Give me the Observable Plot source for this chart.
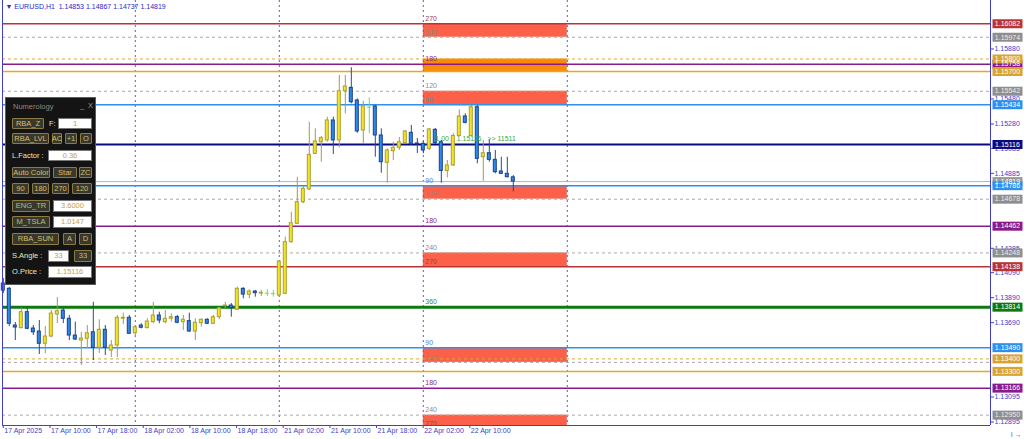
<!DOCTYPE html>
<html><head><meta charset="utf-8">
<script src="https://cdn.jsdelivr.net/npm/d3@7"></script>
<script src="https://cdn.jsdelivr.net/npm/@observablehq/plot@0.6"></script>
<style>
body{margin:0;background:#fff;}
#wrap{position:relative;width:1024px;height:439px;overflow:hidden;font-family:"Liberation Sans",Arial,sans-serif;}
#wrap svg{display:block;}
.el{position:absolute;box-sizing:border-box;font-size:7.5px;line-height:1;display:flex;align-items:center;justify-content:center;white-space:nowrap;}
.btn{background:#38382c;border:1px solid #8c7c44;color:#d6be6e;border-radius:1px;}
.inp{background:#fff;border:1px solid #777;color:#c89e3c;}
.lbl{color:#f0e6b4;justify-content:flex-start;}
</style></head><body><div id="wrap"></div>
<script>
// ---------------- DATA ----------------
const symbolHeader = "▼ EURUSD,H1  1.14853 1.14867 1.14737 1.14819";
// H1 candles, bar index 0 = 17 Apr 2025 02:00
const opens = [1.14003,1.13961,1.13667,1.13646,1.13774,1.13643,1.13619,1.13521,1.13579,1.13755,1.13787,1.13721,1.13587,1.13547,1.13561,1.13613,1.13489,1.13633,1.13467,1.13507,1.13721,1.13729,1.13605,1.13667,1.13646,1.13694,1.13747,1.13694,1.13721,1.13734,1.13694,1.13702,1.13619,1.13686,1.13713,1.13681,1.13734,1.13822,1.13827,1.13793,1.13961,1.13913,1.13939,1.13923,1.13926,1.13923,1.13907,1.13921,1.14334,1.14481,1.14654,1.14756,1.15041,1.15134,1.15148,1.15308,1.15148,1.15542,1.15569,1.15468,1.15228,1.15414,1.15420,1.15188,1.14969,1.15062,1.15089,1.15126,1.15209,1.15124,1.15121,1.15081,1.15233,1.15134,1.14904,1.14948,1.15184,1.15340,1.15184,1.15414,1.15014,1.15046,1.14993,1.14900,1.14881,1.14853];
const highs = [1.14043,1.13971,1.13691,1.13806,1.13806,1.13667,1.13707,1.13659,1.13787,1.13891,1.13803,1.13747,1.13694,1.13613,1.13667,1.13853,1.13713,1.13667,1.13547,1.13747,1.13766,1.13747,1.13667,1.13681,1.13721,1.13853,1.13774,1.13787,1.13761,1.13747,1.13747,1.13766,1.13721,1.13721,1.13721,1.13747,1.13814,1.13853,1.13843,1.13974,1.13969,1.13953,1.13947,1.13947,1.13953,1.13947,1.14179,1.14374,1.14574,1.14854,1.14780,1.15294,1.15241,1.15180,1.15334,1.15334,1.15668,1.15668,1.15730,1.15481,1.15462,1.15489,1.15428,1.15241,1.15081,1.15134,1.15172,1.15228,1.15268,1.15164,1.15140,1.15244,1.15244,1.15148,1.14988,1.15201,1.15393,1.15361,1.15428,1.15428,1.15148,1.15153,1.15068,1.15014,1.15014,1.14867];
const lows = [1.13923,1.13659,1.13547,1.13641,1.13633,1.13587,1.13435,1.13443,1.13569,1.13683,1.13683,1.13547,1.13547,1.13347,1.13483,1.13387,1.13443,1.13427,1.13411,1.13411,1.13675,1.13595,1.13569,1.13641,1.13641,1.13681,1.13681,1.13681,1.13694,1.13681,1.13627,1.13613,1.13547,1.13653,1.13675,1.13673,1.13713,1.13801,1.13734,1.13787,1.13881,1.13881,1.13894,1.13899,1.13899,1.13894,1.13891,1.13915,1.14326,1.14475,1.14641,1.14748,1.15036,1.14974,1.15134,1.15036,1.15089,1.15361,1.15441,1.15206,1.15121,1.15201,1.15014,1.14886,1.14806,1.14988,1.15068,1.15121,1.15108,1.15044,1.15041,1.15068,1.15116,1.14806,1.14849,1.14940,1.15180,1.15281,1.15180,1.14961,1.14822,1.14974,1.14881,1.14876,1.14849,1.14737];
const closes = [1.13947,1.13681,1.13651,1.13774,1.13641,1.13613,1.13521,1.13579,1.13763,1.13782,1.13721,1.13587,1.13555,1.13563,1.13605,1.13489,1.13633,1.13489,1.13507,1.13729,1.13729,1.13601,1.13653,1.13649,1.13699,1.13747,1.13707,1.13721,1.13734,1.13689,1.13713,1.13619,1.13689,1.13713,1.13681,1.13734,1.13806,1.13827,1.13806,1.13961,1.13915,1.13939,1.13926,1.13929,1.13926,1.13923,1.14179,1.14334,1.14486,1.14654,1.14761,1.15033,1.15140,1.15166,1.15308,1.15148,1.15542,1.15580,1.15454,1.15220,1.15420,1.15414,1.15188,1.14974,1.15068,1.15089,1.15134,1.15220,1.15121,1.15118,1.15068,1.15236,1.15126,1.14904,1.14948,1.15184,1.15340,1.15289,1.15414,1.15001,1.15046,1.14993,1.14894,1.14881,1.14854,1.14819];

// horizontal numerology levels
const levelPrice  = [1.16082,1.15974,1.15800,1.15758,1.15700,1.15542,1.15434,1.15116,1.14819,1.14786,1.14678,1.14462,1.14248,1.14138,1.13814,1.13490,1.13400,1.13372,1.13300,1.13166,1.12950,1.12842];
const levelType   = ["red","gray","goldDash","purple","gold","gray","blue","navy","bid","blue","gray","purple","gray","red","green","blue","goldDash","gray","gold","purple","gray","red"];
const levelDegree = ["270","240","","180","","120","90","","","90","120","180","240","270","360","90","","120","","180","240","270"];
const levelTagged = [true,true,true,true,true,true,true,true,true,true,true,true,true,true,true,true,true,false,true,true,true,false];

// shaded zones (between level pairs), over the 22 Apr session
const zoneTop    = [1.16082,1.15800,1.15542,1.14786,1.14248,1.13490,1.12950];
const zoneBottom = [1.15974,1.15700,1.15434,1.14678,1.14138,1.13372,1.12842];
const zoneKind   = ["red","orange","red","red","red","red","red"];
const zoneStart = 70, zoneEnd = 94;          // bar indexes (22 Apr 00:00 → 23 Apr 00:00)
const separators = [22, 46, 70, 94];         // period separators (bar indexes)
const infoText = "1.00    1.15116   >> 11511";
const infoAt = {bar: 72, price: 1.15116};

// axes
const yTicks = [1.15880,1.15480,1.15280,1.15085,1.14885,1.14285,1.14090,1.13890,1.13690,1.13095,1.12895];
const xTickLabels = ["17 Apr 2025","17 Apr 10:00","17 Apr 18:00","18 Apr 02:00","18 Apr 10:00","18 Apr 18:00","21 Apr 02:00","21 Apr 10:00","21 Apr 18:00","22 Apr 02:00","22 Apr 10:00"];
const xTickAt = [0,7.78,15.55,23.33,31.1,38.88,46.65,54.43,62.2,69.98,77.76];

// ---------------- STYLES ----------------
const styles = {
  red:{stroke:"#b93434",w:1.5,dash:null,tagFill:"#b93434",tagText:"#fff",degColor:"#a04040"},
  gray:{stroke:"#a8a8a8",w:1,dash:"3,3",tagFill:"#8e8e8e",tagText:"#ececec",degColor:"#8a8a8a"},
  goldDash:{stroke:"#dba83a",w:1,dash:"3,3",tagFill:"#d9a42c",tagText:"#fff",degColor:"#c09030"},
  purple:{stroke:"#8a1a8a",w:1.5,dash:null,tagFill:"#8a1a8a",tagText:"#fff",degColor:"#8a2a8a"},
  gold:{stroke:"#e6a722",w:1.5,dash:null,tagFill:"#d9a42c",tagText:"#fff",degColor:"#c09030"},
  blue:{stroke:"#2f8ff0",w:1.5,dash:null,tagFill:"#2f8ff0",tagText:"#fff",degColor:"#3a8ae0"},
  navy:{stroke:"#0a0a80",w:2,dash:null,tagFill:"#0a0a80",tagText:"#fff",degColor:"#0a0a80"},
  bid:{stroke:"#b4b4b4",w:1,dash:null,tagFill:"#9a9a9a",tagText:"#fff",degColor:"#999"},
  green:{stroke:"#0c7a0c",w:3,dash:null,tagFill:"#0c7a0c",tagText:"#fff",degColor:"#3a8a3a"}
};
const zoneFill = {red:"#fd6048", orange:"#f98a08"};
const axisColor = "#4040c8";
const bull = {fill:"#f4e42a", stroke:"#a89e32", wick:"#9f9a5a"};
const bear = {fill:"#2e8ae6", stroke:"#1a3f90", wick:"#28488e"};
const doji = "#66dd66";

// ---------------- BUILD ----------------
const candles = opens.map((o,i)=>({i, o, h:highs[i], l:lows[i], c:closes[i],
  kind: closes[i]>o ? "bull" : closes[i]<o ? "bear" : "doji"}));
const levels = levelPrice.map((p,k)=>({...styles[levelType[k]], p, type:levelType[k], degree:levelDegree[k], tagged:levelTagged[k]}));
const zones = zoneTop.map((t,k)=>({t, b:zoneBottom[k], kind:zoneKind[k]}));
// tag draw order: these go underneath their neighbours
const tagUnder = [1.15758,1.14819];
const tags = levels.filter(d=>d.tagged).sort((a,b)=>(tagUnder.includes(b.p)?1:0)-(tagUnder.includes(a.p)?1:0));

const xDomain = [-0.133, 164.533];
const yDomain = [1.12867, 1.162681];
const tagSymbol = {draw(ctx){ ctx.moveTo(-15,-4.5); ctx.lineTo(15,-4.5); ctx.lineTo(15,4.5); ctx.lineTo(-15,4.5); ctx.closePath(); }};

const wickColor = d => d.kind==="bull"?bull.wick:d.kind==="bear"?bear.wick:doji;

const chart = Plot.plot({
  width:1024, height:439,
  marginLeft:2, marginRight:34, marginTop:0, marginBottom:14,
  x:{type:"linear", domain:xDomain, axis:null},
  y:{type:"linear", domain:yDomain, axis:null},
  style:{background:"#fff", fontFamily:"'Liberation Sans', Arial, sans-serif", fontSize:"7px", overflow:"visible"},
  marks:[
    Plot.rect(zones, {x1:()=>zoneStart, x2:()=>zoneEnd, y1:"t", y2:"b", fill:d=>zoneFill[d.kind], clip:true}),
    Plot.ruleX(separators, {x:d=>d, stroke:"#5a5ad8", strokeDasharray:"2,3", strokeWidth:1}),
    ...Object.entries(styles).map(([k,s]) =>
      Plot.ruleY(levels.filter(d=>d.type===k), {y:"p", stroke:s.stroke, strokeWidth:s.w, strokeDasharray:s.dash||undefined, clip:true})),
    Plot.text(levels.filter(d=>d.degree), {x:()=>zoneStart, y:"p", text:"degree", fill:"degColor", dx:2, dy:-5, textAnchor:"start", fontSize:7}),
    Plot.ruleX(candles, {x:"i", y1:"l", y2:"h", stroke:wickColor, strokeWidth:1}),
    Plot.rect(candles.filter(d=>d.kind!=="doji"), {x1:d=>d.i-0.5, x2:d=>d.i+0.5, y1:"o", y2:"c", insetLeft:1.5, insetRight:1.5,
      fill:d=>d.kind==="bull"?bull.fill:bear.fill, stroke:d=>d.kind==="bull"?bull.stroke:bear.stroke, strokeWidth:1}),
    Plot.ruleY(candles.filter(d=>d.kind==="doji"), {y:"c", x1:d=>d.i-0.33, x2:d=>d.i+0.33, stroke:doji, strokeWidth:1}),
    Plot.text([infoText], {x:()=>infoAt.bar, y:()=>infoAt.price, text:d=>d, dy:-6, textAnchor:"start", fill:"#3aa83a", fontSize:7}),
    Plot.text([symbolHeader], {frameAnchor:"top-left", dx:3, dy:4, text:d=>d, fill:"#2a2ac8", fontSize:7, textAnchor:"start", lineAnchor:"top"}),
    // frame lines
    Plot.ruleX([xDomain[0], xDomain[1]], {x:d=>d, stroke:axisColor}),
    Plot.ruleY([yDomain[0]], {y:d=>d, stroke:axisColor}),
    // axes
    Plot.axisY(yTicks, {anchor:"right", tickSize:3, tickPadding:1, tickFormat:d3.format(".5f"), fontSize:7, color:axisColor}),
    Plot.axisX(xTickAt, {anchor:"bottom", tickSize:3, tickFormat:()=>"", color:axisColor}),
    Plot.text(xTickAt, {x:d=>d, text:(d,i)=>xTickLabels[i], frameAnchor:"bottom", dy:7, dx:1, textAnchor:"start", fill:axisColor, fontSize:7}),
    // price tags
    Plot.dot(tags, {y:"p", frameAnchor:"right", dx:17, symbol:tagSymbol, r:5, fill:"tagFill", stroke:null}),
    Plot.text(tags, {y:"p", frameAnchor:"right", dx:17, textAnchor:"middle", text:d=>d3.format(".5f")(d.p), fill:"tagText", fontSize:7})
  ]
});
const wrap = document.getElementById("wrap");
wrap.appendChild(chart);

// ---------------- Numerology panel (overlay UI) ----------------
const panel = document.createElement("div");
panel.style.cssText = "position:absolute;left:5px;top:97px;width:91px;height:188px;background:#141414;border:1px solid #5a5a5a;box-sizing:border-box;";
wrap.appendChild(panel);
const ui = [
  ["lbl",7,4,40,9,"Numerology","#8a8a8a"],["lbl",74,3,6,9,"_","#9a9a9a"],["lbl",82,3,6,9,"X","#9a9a9a"],
  ["btn",6,20,32,11,"RBA_Z"],["lbl",43,20,10,11,"F:"],["inp",52,20,34,11,"1"],
  ["btn",6,35,37,11,"RBA_LVL"],["btn",46,35,10,11,"AC"],["btn",59,35,12,11,"+1"],["btn",74,35,12,11,"O"],
  ["lbl",6,52,36,11,"L.Factor :"],["inp",42,52,44,11,"0.36"],
  ["btn",6,69,38,11,"Auto Color"],["btn",47,69,24,11,"Star"],["btn",73,69,13,11,"ZC"],
  ["btn",6,85,17,11,"90"],["btn",26,85,17,11,"180"],["btn",46,85,17,11,"270"],["btn",66,85,20,11,"120"],
  ["btn",6,102,38,12,"ENG_TR","#a6c48a"],["inp",47,102,39,12,"3.6000"],
  ["btn",6,118,38,12,"M_TSLA","#a6c48a"],["inp",47,118,39,12,"1.0147"],
  ["btn",6,135,47,12,"RBA_SUN"],["btn",57,135,13,12,"A"],["btn",73,135,13,12,"D"],
  ["lbl",6,152,36,12,"S.Angle :"],["inp",42,152,21,12,"33"],["btn",68,152,18,12,"33"],
  ["lbl",6,168,36,12,"O.Price :"],["inp",42,168,44,12,"1.15116"]
];
for (const [cls,x,y,w,h,t,col] of ui) {
  const e = document.createElement("div");
  e.className = "el " + cls;
  e.style.left = x+"px"; e.style.top = y+"px"; e.style.width = w+"px"; e.style.height = h+"px";
  if (col) e.style.color = col;
  e.textContent = t;
  panel.appendChild(e);
}
</script></body></html>
